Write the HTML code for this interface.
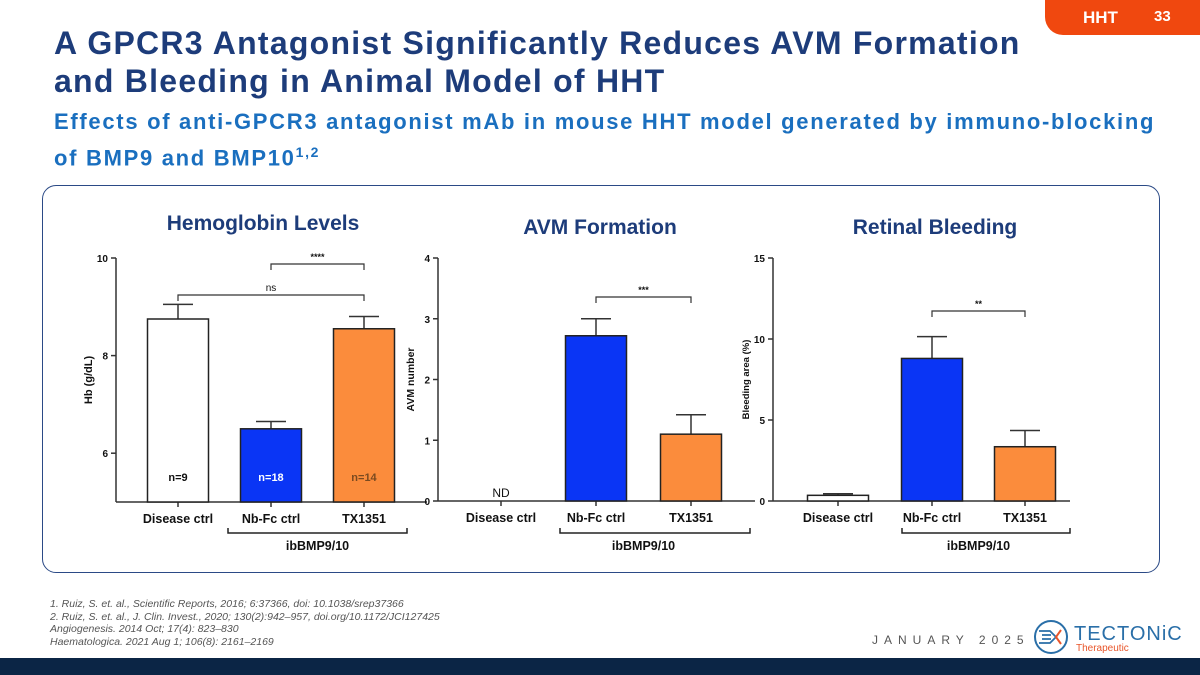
<!DOCTYPE html>
<html><head><meta charset="utf-8"><style>
body{margin:0;width:1200px;height:675px;overflow:hidden;background:#fff;font-family:"Liberation Sans",sans-serif;position:relative}
.abs{position:absolute}
</style></head><body>
<div class="abs" style="left:1045px;top:0;width:155px;height:35px;background:#f0480f;border-radius:0 0 0 18px"></div>
<div class="abs" style="left:1083px;top:8px;color:#fff;font-weight:bold;font-size:17px">HHT</div>
<div class="abs" style="left:1154px;top:8px;color:#fff;font-weight:bold;font-size:15px">33</div>
<div class="abs" style="left:54px;top:24px;color:#1d3c7a;font-weight:bold;font-size:32px;line-height:38px;letter-spacing:1.25px;white-space:nowrap">A GPCR3 Antagonist Significantly Reduces AVM Formation<br>and Bleeding in Animal Model of HHT</div>
<div class="abs" style="left:54px;top:107px;color:#1a6fbf;font-weight:bold;font-size:22px;line-height:30px;letter-spacing:1.7px;white-space:nowrap">Effects of anti-GPCR3 antagonist mAb in mouse HHT model generated by immuno-blocking<br>of BMP9 and BMP10<sup style="font-size:14px">1,2</sup></div>
<div class="abs" style="left:42px;top:185px;width:1116px;height:386px;border:1px solid #2b4a86;border-radius:14px"></div>
<div class="abs" style="left:50px;top:598px;color:#555;font-style:italic;font-size:10.5px;line-height:12.5px">1. Ruiz, S. et. al., Scientific Reports, 2016; 6:37366, doi: 10.1038/srep37366<br>2. Ruiz, S. et. al., J. Clin. Invest., 2020; 130(2):942–957, doi.org/10.1172/JCI127425<br>Angiogenesis. 2014 Oct; 17(4): 823–830<br>Haematologica. 2021 Aug 1; 106(8): 2161–2169</div>
<div class="abs" style="left:872px;top:633px;color:#555;font-size:12px;letter-spacing:6px">JANUARY 2025</div>
<svg class="abs" style="left:1030px;top:618px" width="170" height="40">
<circle cx="21" cy="19" r="16" fill="none" stroke="#2a6fa8" stroke-width="2"/>
<path d="M9 13 L20 13 L26 19 L20 25 L9 25 M12 17 L21 17 M12 21 L21 21" fill="none" stroke="#2a6fa8" stroke-width="1.8"/>
<path d="M31 12 L26 19 L31 26" fill="none" stroke="#e8552a" stroke-width="2"/>
<text x="44" y="22" font-size="20" fill="#2a6fa8" font-family="Liberation Sans" letter-spacing="1">TECTONiC</text>
<text x="46" y="33" font-size="10" fill="#e8552a" font-family="Liberation Sans">Therapeutic</text>
</svg>
<div class="abs" style="left:0;top:658px;width:1200px;height:17px;background:#0b2545"></div>
<svg id="charts" class="abs" style="left:0;top:0" width="1200" height="675"></svg>
<script>
const categories=["Disease ctrl","Nb-Fc ctrl","TX1351"];
const hbValues=[8.75,6.5,8.55];
const hbErrors=[0.3,0.15,0.25];
const hbTicks=[6,8,10];
const avmValues=[0,2.72,1.1];
const avmErrors=[0,0.28,0.32];
const avmTicks=[0,1,2,3,4];
const bleedValues=[0.35,8.8,3.35];
const bleedErrors=[0.1,1.35,1.0];
const bleedTicks=[0,5,10,15];
const nLabels=["n=9","n=18","n=14"];
const NS="http://www.w3.org/2000/svg";
const svg=document.getElementById('charts');
const fills=["#ffffff","#0a35f5","#fb8c3c"];
function mk(tag,attrs,txt){const e=document.createElementNS(NS,tag);for(const k in attrs)e.setAttribute(k,attrs[k]);if(txt!==undefined)e.textContent=txt;svg.appendChild(e);return e;}
function chart(cfg){
 const y=v=>cfg.y0-(v-cfg.min)/(cfg.max-cfg.min)*(cfg.y0-cfg.y1);
 const t=mk('text',{x:cfg.tx,y:cfg.ty,'text-anchor':'middle','font-size':21,'font-weight':'bold',fill:'#1d3c7a'},cfg.title);
 
 
 const ya=mk('line',{x1:cfg.ax,x2:cfg.ax,y1:y(cfg.max),y2:cfg.y0,stroke:'#333','stroke-width':1.5});
 
 
 const xa=mk('line',{x1:cfg.ax,x2:cfg.xend,y1:cfg.y0,y2:cfg.y0,stroke:'#333','stroke-width':1.5});
 
 
 cfg.ticks.forEach(v=>{
  mk('line',{x1:cfg.ax-5,x2:cfg.ax,y1:y(v),y2:y(v),stroke:'#333','stroke-width':1.5});
  const tl=mk('text',{x:cfg.ax-8,y:y(v)+4,'text-anchor':'end','font-size':10,'font-weight':'bold',fill:'#111'},v);
  
  
 });
 const yt=mk('text',{transform:`translate(${cfg.ax-24},${(cfg.y0+y(cfg.max))/2}) rotate(-90)`,'text-anchor':'middle','font-size':cfg.ytSize,'font-weight':'bold',fill:'#111'},cfg.ytitle);
 
 
 cfg.values.forEach((v,i)=>{
  const cx=cfg.cx[i],w=61;
  mk('line',{x1:cx,x2:cx,y1:cfg.y0,y2:cfg.y0+5,stroke:'#333','stroke-width':1.5});
  if(cfg.nd&&i===0){const nd=mk('text',{x:cx,y:cfg.y0-4,'text-anchor':'middle','font-size':12,fill:'#111'},'ND');}
  else{
   const top=v+cfg.errors[i];
   mk('line',{x1:cx,x2:cx,y1:y(v),y2:y(top),stroke:'#333','stroke-width':1.5});
   mk('line',{x1:cx-15,x2:cx+15,y1:y(top),y2:y(top),stroke:'#333','stroke-width':1.5});
   const b=mk('rect',{x:cx-w/2,y:y(v),width:w,height:cfg.y0-y(v),fill:fills[i],stroke:'#222','stroke-width':1.5});
   
   
  }
  const cl=mk('text',{x:cx,y:cfg.y0+21,'text-anchor':'middle','font-size':12.5,'font-weight':'bold',fill:'#111'},categories[i]);
  
  
  if(cfg.n){const nl=mk('text',{x:cx,y:cfg.y0-21,'text-anchor':'middle','font-size':11,'font-weight':'bold',fill:['#111','#fff','#7a4a20'][i]},nLabels[i]);}
 });
 cfg.brackets.forEach(br=>{
  const p=mk('path',{d:`M${cfg.cx[br.a]} ${br.y+6} V${br.y} H${cfg.cx[br.b]} V${br.y+6}`,fill:'none',stroke:'#333','stroke-width':1.2});
  
  
  const s=mk('text',{x:(cfg.cx[br.a]+cfg.cx[br.b])/2,y:br.y-4,'text-anchor':'middle','font-size':br.l==='ns'?10:9,'font-weight':br.l==='ns'?'normal':'bold',fill:'#111'},br.l);
  
  
 });
 const gp=mk('path',{d:`M${cfg.gx1} 528 V533 H${cfg.gx2} V528`,fill:'none',stroke:'#222','stroke-width':1.5});
 
 
 const gl=mk('text',{x:(cfg.cx[1]+cfg.cx[2])/2,y:550,'text-anchor':'middle','font-size':12.5,'font-weight':'bold',fill:'#111'},'ibBMP9/10');
 
 
}
chart({title:'Hemoglobin Levels',tx:263,ty:230,values:hbValues,errors:hbErrors,ticks:hbTicks,min:5,max:10,y0:502,y1:258,ax:116,xend:427,cx:[178,271,364],ytitle:'Hb (g/dL)',ytSize:11,n:true,brackets:[{a:1,b:2,y:264,l:'****'},{a:0,b:2,y:295,l:'ns'}],gx1:228,gx2:407});
chart({title:'AVM Formation',tx:600,ty:234,values:avmValues,errors:avmErrors,ticks:avmTicks,min:0,max:4,y0:501,y1:258,ax:438,xend:755,cx:[501,596,691],ytitle:'AVM number',ytSize:10.5,nd:true,brackets:[{a:1,b:2,y:297,l:'***'}],gx1:560,gx2:750});
chart({title:'Retinal Bleeding',tx:935,ty:234,values:bleedValues,errors:bleedErrors,ticks:bleedTicks,min:0,max:15,y0:501,y1:258,ax:773,xend:1070,cx:[838,932,1025],ytitle:'Bleeding area (%)',ytSize:9.5,brackets:[{a:1,b:2,y:311,l:'**'}],gx1:902,gx2:1070});
</script>
</body></html>
